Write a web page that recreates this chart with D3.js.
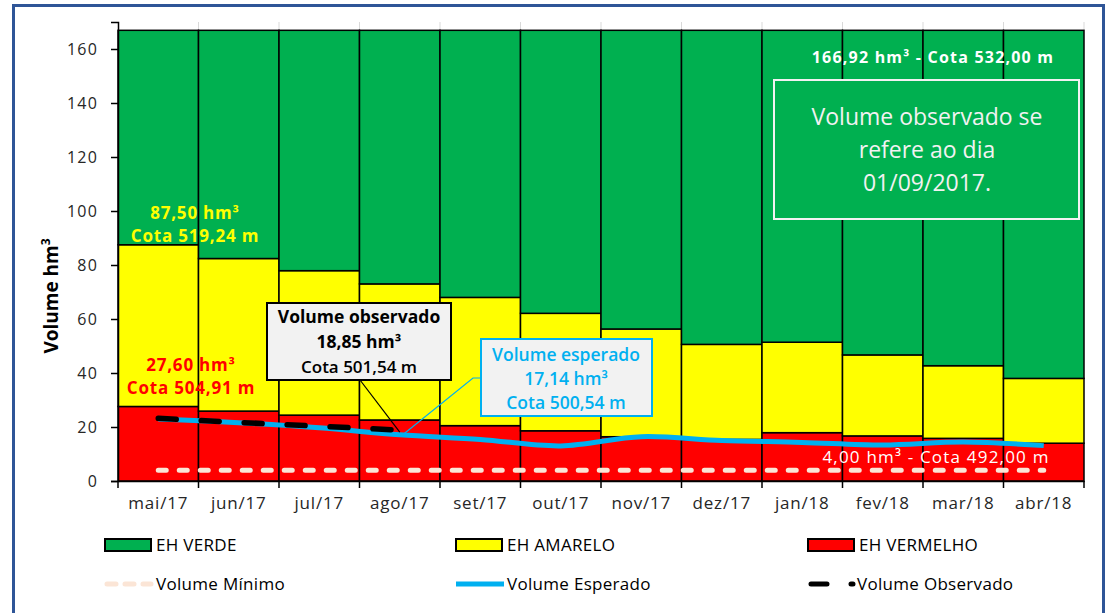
<!DOCTYPE html>
<html>
<head>
<meta charset="utf-8">
<script src="https://cdn.jsdelivr.net/npm/d3@7"></script>
<style>
  body { margin: 0; background: #ffffff; }
  svg { display: block; }
  text { font-family: "Open Sans", "Noto Sans", sans-serif; }
</style>
</head>
<body>
<svg id="thesvg" width="1112" height="613"></svg>
<script>
var months = ["mai/17", "jun/17", "jul/17", "ago/17", "set/17", "out/17",
              "nov/17", "dez/17", "jan/18", "fev/18", "mar/18", "abr/18"];
// tops of each zone (hm3)
var ehVermelho = [27.6, 25.9, 24.4, 22.6, 20.5, 18.6, 16.4, 15.4, 17.9, 16.7, 15.8, 14.0];
var ehAmarelo = [87.5, 82.4, 77.9, 73.0, 68.0, 62.1, 56.3, 50.6, 51.4, 46.7, 42.7, 38.0];
var ehVerde = [166.92, 166.92, 166.92, 166.92, 166.92, 166.92, 166.92, 166.92, 166.92, 166.92, 166.92, 166.92];
var volMinimo = [4, 4, 4, 4, 4, 4, 4, 4, 4, 4, 4, 4];
var volEsperado = [23.0, 21.6, 19.7, 17.14, 15.4, 13.0, 16.4, 15.0, 14.3, 13.3, 14.4, 13.1];
var volObservado = [23.2, 21.7, 20.3, 18.85];
var yTicks = [0, 20, 40, 60, 80, 100, 120, 140, 160];

var green = "#00b050";
var yellow = "#ffff00";
var red = "#ff0000";
var blue = "#00b0f0";
var pink = "#fbe5d6";

var svg = d3.select("#thesvg");

// outer frame
svg.append("rect")
    .attr("x", 13.5).attr("y", 5.5)
    .attr("width", 1090).attr("height", 640)
    .attr("fill", "none")
    .attr("stroke", "#2f5597")
    .attr("stroke-width", 3);

var x = d3.scaleBand()
    .domain(months)
    .range([118, 1084])
    .padding(0);

var y = d3.scaleLinear()
    .domain([0, 170])
    .range([481, 22]);

var bw = x.bandwidth();

// faint grid lines above the bars
var bounds = months.map(function(m) { return x(m); }).concat([x(months[11]) + bw]);
svg.append("g").selectAll("line")
    .data(bounds.slice(1))
    .enter().append("line")
    .attr("x1", function(d) { return d; })
    .attr("x2", function(d) { return d; })
    .attr("y1", y(170))
    .attr("y2", y(166.92))
    .attr("stroke", "#d9d9d9")
    .attr("stroke-width", 1);

// stacked zones
var segs = [];
for (var i = 0; i < months.length; i++) {
    segs.push({m: months[i], lo: 0, hi: ehVermelho[i], c: red});
    segs.push({m: months[i], lo: ehVermelho[i], hi: ehAmarelo[i], c: yellow});
    segs.push({m: months[i], lo: ehAmarelo[i], hi: ehVerde[i], c: green});
}
svg.append("g").selectAll("rect")
    .data(segs)
    .enter().append("rect")
    .attr("x", function(d) { return x(d.m); })
    .attr("width", bw)
    .attr("y", function(d) { return y(d.hi); })
    .attr("height", function(d) { return y(d.lo) - y(d.hi); })
    .attr("fill", function(d) { return d.c; })
    .attr("stroke", "#000")
    .attr("stroke-width", 1.5);

// y axis
var yAxis = d3.axisLeft(y).tickValues(yTicks).tickSize(7).tickPadding(13);
var gy = svg.append("g")
    .attr("transform", "translate(118,0)")
    .call(yAxis);
gy.select(".domain").attr("stroke", "#000").attr("stroke-width", 1.5);
gy.selectAll(".tick line").attr("stroke", "#000").attr("stroke-width", 1.5);
gy.selectAll("text")
    .style("font-size", "16px")
    .style("letter-spacing", "1.2px")
    .attr("fill", "#262626");

// x axis
var xAxis = d3.axisBottom(x).tickSize(0).tickPadding(16);
var gx = svg.append("g")
    .attr("transform", "translate(0,481)")
    .call(xAxis);
gx.select(".domain").attr("stroke", "#000").attr("stroke-width", 1.5);
gx.selectAll("text")
    .style("font-size", "17px")
    .style("letter-spacing", "0.8px")
    .attr("fill", "#262626");
gx.selectAll(".bticks")
    .data(bounds)
    .enter().append("line")
    .attr("x1", function(d) { return d; })
    .attr("x2", function(d) { return d; })
    .attr("y1", 0).attr("y2", 7)
    .attr("stroke", "#000")
    .attr("stroke-width", 1.5);

// y title
svg.append("text")
    .attr("transform", "translate(58,296) rotate(-90)")
    .attr("text-anchor", "middle")
    .style("font-size", "19px")
    .style("font-weight", "bold")
    .attr("fill", "#000")
    .text("Volume hm")
    .append("tspan")
    .attr("dy", -8)
    .style("font-size", "12px")
    .text("3");

var cx = function(i) { return x(months[i]) + bw / 2; };

// lines
var line = d3.line()
    .x(function(d, i) { return cx(i); })
    .y(function(d) { return y(d); });

svg.append("path")
    .datum(volMinimo)
    .attr("d", line)
    .attr("fill", "none")
    .attr("stroke", pink)
    .attr("stroke-width", 5)
    .attr("stroke-linecap", "round")
    .attr("stroke-dasharray", "8,13");

svg.append("path")
    .datum(volEsperado)
    .attr("d", line.curve(d3.curveCatmullRom))
    .attr("fill", "none")
    .attr("stroke", blue)
    .attr("stroke-width", 5);

svg.append("path")
    .datum(volObservado)
    .attr("d", line.curve(d3.curveLinear))
    .attr("fill", "none")
    .attr("stroke", "#000")
    .attr("stroke-width", 5.5)
    .attr("stroke-linecap", "round")
    .attr("stroke-dasharray", "18,25");

// zone labels
function label(lines, px, py, color, size, weight, gap, ls) {
    var t = svg.append("text")
        .attr("text-anchor", "middle")
        .style("font-size", size)
        .style("font-weight", weight)
        .style("letter-spacing", ls || "0px")
        .attr("fill", color);
    lines.forEach(function(s, k) {
        t.append("tspan").attr("x", px).attr("y", py + k * gap).text(s);
    });
    return t;
}
label(["87,50  hm³", "Cota 519,24 m"], 195, 219, yellow, "17px", "bold", 23, "0.8px");
label(["27,60 hm³", "Cota 504,91 m"], 191, 371, red, "17px", "bold", 23, "0.8px");
label(["166,92 hm³ - Cota 532,00 m"], 933, 63, "#ffffff", "16px", "bold", 0, "1.2px");
label(["4,00 hm³ - Cota 492,00 m"], 936, 463, "#ffffff", "17px", "normal", 0, "1.2px");

// note box
svg.append("rect")
    .attr("x", 774).attr("y", 80)
    .attr("width", 305).attr("height", 139)
    .attr("fill", green)
    .attr("stroke", "#f2f2f2")
    .attr("stroke-width", 2);
label(["Volume observado se", "refere ao dia", "01/09/2017."], 927, 125, "#f2f2f2", "23px", "normal", 33);

// callout: observado
svg.append("line")
    .attr("x1", 360).attr("y1", 380)
    .attr("x2", cx(3)).attr("y2", y(volObservado[3]) + 2)
    .attr("stroke", "#000").attr("stroke-width", 1.2);
svg.append("rect")
    .attr("x", 267).attr("y", 303)
    .attr("width", 184).attr("height", 77)
    .attr("fill", "#f2f2f2")
    .attr("stroke", "#000")
    .attr("stroke-width", 2);
label(["Volume observado", "18,85 hm³"], 359, 323, "#000", "17.5px", "bold", 25);
label(["Cota 501,54 m"], 359, 373, "#000", "17px", "600", 0);

// callout: esperado
svg.append("polyline")
    .attr("points", [[481, 378], [473, 378], [cx(3) + 3, y(volEsperado[3])]].join(" "))
    .attr("fill", "none")
    .attr("stroke", blue).attr("stroke-width", 1.2);
svg.append("rect")
    .attr("x", 481).attr("y", 339)
    .attr("width", 171).attr("height", 77)
    .attr("fill", "#f2f2f2")
    .attr("stroke", blue)
    .attr("stroke-width", 2);
label(["Volume esperado", "17,14 hm³", "Cota 500,54 m"], 566, 361, blue, "17.5px", "600", 24);

// legend
var leg1 = [{n: "EH VERDE", c: green, x: 105}, {n: "EH AMARELO", c: yellow, x: 456}, {n: "EH VERMELHO", c: red, x: 808}];
leg1.forEach(function(d) {
    svg.append("text")
        .attr("x", d.x + 51).attr("y", 551)
        .style("font-size", "17px")
        .style("letter-spacing", "0.3px")
        .attr("fill", "#000")
        .text(d.n);
    svg.append("rect")
        .attr("x", d.x).attr("y", 539)
        .attr("width", 46).attr("height", 12)
        .attr("fill", d.c)
        .attr("stroke", "#000")
        .attr("stroke-width", 2);
});

svg.append("line")
    .attr("x1", 107).attr("x2", 151).attr("y1", 584).attr("y2", 584)
    .attr("stroke", pink).attr("stroke-width", 5)
    .attr("stroke-linecap", "round")
    .attr("stroke-dasharray", "9,9");
svg.append("line")
    .attr("x1", 456).attr("x2", 504).attr("y1", 584).attr("y2", 584)
    .attr("stroke", blue).attr("stroke-width", 5);
svg.append("line")
    .attr("x1", 811).attr("x2", 853).attr("y1", 584).attr("y2", 584)
    .attr("stroke", "#000").attr("stroke-width", 5)
    .attr("stroke-linecap", "round")
    .attr("stroke-dasharray", "16,24");

var leg2 = [{n: "Volume Mínimo", x: 156}, {n: "Volume Esperado", x: 507}, {n: "Volume Observado", x: 857}];
leg2.forEach(function(d) {
    svg.append("text")
        .attr("x", d.x).attr("y", 590)
        .style("font-size", "17px")
        .style("letter-spacing", "0.3px")
        .attr("fill", "#000")
        .text(d.n);
});
</script>
</body>
</html>
